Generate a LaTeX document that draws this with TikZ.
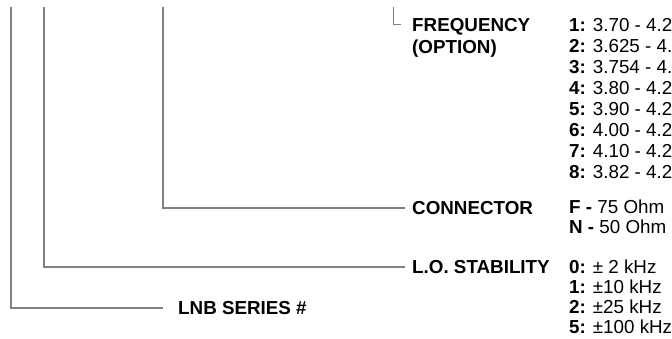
\documentclass[tikz,border=0pt]{standalone}
\usepackage{fontspec}
\setmainfont{Liberation Sans}
\usetikzlibrary{positioning}
\definecolor{leadgray}{RGB}{126,130,130}
\newcommand{\optline}[4]{%
	\node[optval] (#1) at (569,{#2}) {\textbf{#3} #4};
}
\newcommand{\lead}[3]{%
	\draw [leadline] (#1) |- ([xshift=-#3pt]#2.west);
}

\begin{document}
\begin{tikzpicture}[x=1pt,y=-1pt,
	every node/.style={inner sep=0pt, text height=13.4pt, text depth=0pt, anchor=west},
	optval/.style={font=\fontsize{18.8}{21}\selectfont},
	optlabel/.style={font=\fontsize{18.8}{21}\selectfont\bfseries},
	leadline/.style={draw=leadgray, line width=1.3pt}]
	
	\useasboundingbox (0,0) rectangle (672,339);
	
	\coordinate (seriestop) at (11,7);
	\coordinate (stabtop) at (44,7);
	\coordinate (conntop) at (163,7);
	\coordinate (freqtop) at (393,7);
	
	% labels
	\node[optlabel] (freq) at (412,25) {FREQUENCY};
	\node[optlabel, below=7.6pt of freq.south west, anchor=north west] (freqopt) {(OPTION)};
	\node[optlabel] (conn) at (412,208) {CONNECTOR};
	\node[optlabel] (stab) at (412,267) {L.O. STABILITY};
	\node[optlabel] (series) at (178,308) {LNB SERIES \#};
	
	% leads
	\draw [leadline, line width=1pt] (freqtop) |- ([xshift=-11pt]freq.west);
	\lead{conntop}{conn}{7}
	\lead{stabtop}{stab}{7}
	\lead{seriestop}{series}{15}
	
	% options
	\foreach \key/\range [count=\i] in {1/3.70,2/3.625,3/3.754,4/3.80,5/3.90,6/4.00,7/4.10,8/3.82} {
		\optline{f\i}{25+21*(\i-1)}{\key:}{\range\ - 4.20}
	}
	
	\optline{cf}{207}{F -}{75 Ohm}
	\optline{cn}{227}{N -}{50 Ohm}
	
	\optline{s0}{267}{0:}{± 2 kHz}
	\optline{s1}{287}{1:}{±10 kHz}
	\optline{s2}{307}{2:}{±25 kHz}
	\optline{s5}{327}{5:}{±100 kHz}

\end{tikzpicture}
\end{document}
